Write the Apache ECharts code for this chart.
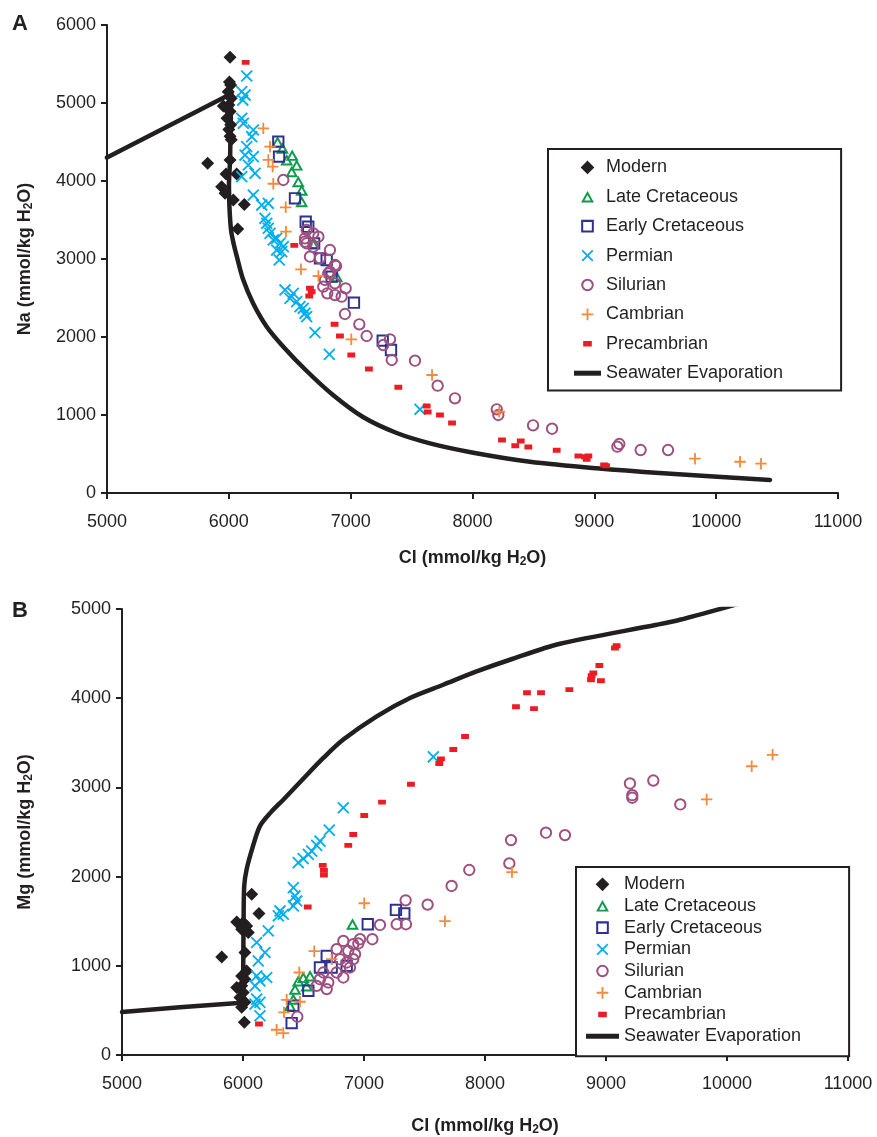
<!DOCTYPE html>
<html>
<head>
<meta charset="utf-8">
<script src="https://cdn.jsdelivr.net/npm/echarts@6/dist/echarts.min.js"></script>
<style>
html,body{margin:0;padding:0;background:#fff;}
#chart{width:877px;height:1137px;}
</style>
</head>
<body>
<div id="chart"></div>
<script>
// ---------------- DATA (Cl, Na) panel A ----------------
const xTicks = [5000, 6000, 7000, 8000, 9000, 10000, 11000];
const seriesNames = ['Modern', 'Late Cretaceous', 'Early Cretaceous', 'Permian', 'Silurian', 'Cambrian', 'Precambrian', 'Seawater Evaporation'];

const modernA = [[6010,5585],[6005,5270],[6015,5230],[5995,5145],[6020,5060],[6000,4975],[6010,4890],[5985,4805],[6015,4720],[6000,4660],[6010,4575],[6020,4530],[5955,4960],[5826,4226],[6010,4270],[5977,4090],[6064,4090],[5941,3927],[5969,3842],[6037,3756],[6127,3700],[6073,3385]];
const lateCretA = [[6400,4500],[6440,4420],[6475,4270],[6520,4330],[6557,4205],[6516,4120],[6570,3991],[6598,3884],[6598,3735],[6690,3200],[6886,2773]];
const earlyCretA = [[6406,4505],[6412,4312],[6543,3778],[6631,3478],[6652,3414],[6700,3200],[6748,3009],[6803,2987],[6844,2773],[7027,2440],[7263,1953],[7331,1833]];
const permianA = [[6147,5346],[6106,5145],[6133,5102],[6114,5038],[6106,4804],[6119,4740],[6201,4654],[6188,4568],[6147,4440],[6133,4333],[6201,4312],[6160,4205],[6215,4099],[6106,4056],[6201,3820],[6270,3692],[6324,3714],[6297,3522],[6311,3458],[6324,3394],[6338,3329],[6365,3244],[6393,3266],[6420,3201],[6447,3158],[6434,3094],[6393,3115],[6414,2987],[6461,2603],[6529,2560],[6502,2496],[6557,2453],[6584,2389],[6611,2368],[6625,2304],[6639,2261],[6707,2056],[6825,1778],[7569,1073]];
const silurianA = [[6447,4013],[6639,3372],[6693,3329],[6735,3286],[6625,3265],[6639,3201],[6693,3158],[6830,3115],[6666,3030],[6748,3009],[6871,2923],[6830,2837],[6625,3222],[6880,2910],[6816,2816],[6789,2731],[6871,2688],[6959,2624],[6775,2645],[6808,2560],[6871,2538],[6926,2517],[6953,2295],[7071,2163],[7131,2013],[7323,1970],[7268,1897],[7337,1705],[7528,1696],[7714,1376],[7856,1214],[8199,1073],[8212,1000],[8497,868],[8653,824],[9189,594],[9205,628],[9380,551],[9605,551]];
const cambrianA = [[6283,4675],[6338,4440],[6324,4270],[6360,4184],[6365,3965],[6467,3663],[6469,3350],[6592,2868],[6735,2782],[7005,1970],[7668,1513],[8220,1042],[9826,440],[10196,401],[10368,376]];
const precambrianA = [[6138,5521],[6537,3175],[6666,2624],[6680,2581],[6660,2526],[6868,2163],[6912,2013],[7005,1769],[7150,1590],[7391,1355],[7624,1115],[7632,1038],[7733,1000],[7832,897],[8242,679],[8351,606],[8396,667],[8458,590],[8691,547],[8869,474],[8923,465],[8951,474],[8937,432],[9080,359],[9096,350]];
// seawater evaporation path: straight limb to the halite point, then the curve
const seawaterA1 = [[5000,4300],[6020,5120]];
const seawaterA2 = [[6020,5120],[6014,4654],[6010,4269],[6001,3949],[6005,3667],[6018,3372],[6042,3179],[6067,3025],[6116,2743],[6198,2436],[6311,2132],[6447,1876],[6639,1564],[6855,1256],[7101,974],[7378,769],[7651,637],[8007,517],[8472,401],[9019,317],[9566,253],[10442,167]];

// ---------------- DATA (Cl, Mg) panel B ----------------
const modernB = [[6072,1802],[6132,1586],[5948,1492],[6002,1485],[6030,1447],[5989,1410],[6044,1373],[5824,1100],[6016,1149],[6030,943],[5989,887],[6016,850],[5989,776],[5948,757],[6002,702],[5975,646],[6016,590],[5989,534],[6011,366]];
const lateCretB = [[6905,1466],[6457,831],[6498,869],[6430,739],[6554,887],[6526,775],[6416,627],[6388,552]];
const earlyCretB = [[7031,1466],[7264,1626],[7333,1586],[6636,981],[6692,1111],[6857,999],[6540,720],[6416,552],[6402,358],[6733,981]];
const permianB = [[7573,3343],[6829,2772],[6713,2521],[6636,2398],[6609,2350],[6568,2286],[6540,2249],[6498,2201],[6457,2156],[6416,1877],[6430,1783],[6444,1727],[6416,1671],[6306,1615],[6333,1578],[6292,1559],[6209,1391],[6113,1261],[6182,1149],[6126,1055],[6113,887],[6196,869],[6140,831],[6099,775],[6113,627],[6140,590],[6099,571],[6140,440]];
const silurianB = [[6449,429],[7132,1458],[7069,1298],[7344,1734],[7270,1466],[7347,1466],[7526,1686],[7724,1895],[7870,2074],[6829,1279],[6911,1242],[6967,1298],[6953,1250],[6774,1186],[6870,1167],[6926,1130],[6802,1074],[6857,1037],[6911,1074],[6884,981],[6774,925],[6829,869],[6664,925],[6636,850],[6705,813],[6609,775],[6692,739],[8215,2409],[8201,2148],[8504,2492],[8661,2465],[9198,3044],[9217,2913],[9217,2884],[9391,3077],[9614,2809]];
const cambrianB = [[7002,1701],[7669,1500],[6589,1164],[6733,1074],[6465,925],[6361,619],[6471,597],[6339,478],[6278,283],[6333,246],[8223,2051],[9832,2865],[10204,3237],[10377,3365]];
const precambrianB = [[6132,347],[6535,1660],[6659,2126],[6669,2070],[6669,2017],[6870,2350],[6911,2473],[7002,2686],[7149,2835],[7388,3036],[7622,3268],[7636,3320],[7738,3424],[7835,3570],[8256,3905],[8405,3883],[8347,4062],[8463,4062],[8697,4096],[8876,4207],[8881,4252],[8895,4282],[8958,4196],[8945,4367],[9074,4562],[9088,4588]];
const seawaterB1 = [[5000,481],[5479,534],[5934,579],[6000,595],[6002,1000]];
const seawaterB2 = [[6002,1000],[6005,1500],[6010,1894],[6030,2081],[6080,2330],[6140,2566],[6230,2720],[6335,2865],[6500,3100],[6664,3330],[6829,3536],[7105,3797],[7380,4003],[7655,4151],[7931,4300],[8206,4431],[8620,4610],[9419,4823],[9611,4879],[10100,5060]];

// ---------------- STYLE ----------------
const FONT = '"Liberation Sans", Arial, Helvetica, sans-serif';
const INK = '#231f20';
const COLORS = {
  'Modern': '#231f20',
  'Late Cretaceous': '#0a9c4a',
  'Early Cretaceous': '#2e3192',
  'Permian': '#00aeef',
  'Silurian': '#9e4f7f',
  'Cambrian': '#f7893b',
  'Precambrian': '#ec1c24',
  'Seawater Evaporation': '#231f20'
};
// symbol geometry in a 100x100 box (corner points fix the box), scaled by k about the centre
const BOX = 'M0,0 L0,0 Z M100,100 L100,100 Z ';
function sc(v, k) { return (50 + (v - 50) * k).toFixed(2); }
function poly(pts, k) { return 'M' + pts.map(p => sc(p[0], k) + ',' + sc(p[1], k)).join(' L') + ' Z '; }
function ring(ro, ri, k) {
  ro *= k; ri *= k;
  return 'M' + (50 - ro) + ',50 A' + ro + ',' + ro + ' 0 1,1 ' + (50 + ro) + ',50 A' + ro + ',' + ro + ' 0 1,1 ' + (50 - ro) + ',50 Z ' +
         'M' + (50 - ri) + ',50 A' + ri + ',' + ri + ' 0 1,0 ' + (50 + ri) + ',50 A' + ri + ',' + ri + ' 0 1,0 ' + (50 - ri) + ',50 Z ';
}
const SHAPE = {
  'Modern': k => poly([[50,0],[100,50],[50,100],[0,50]], k),
  'Late Cretaceous': k => poly([[50,8],[96,90],[4,90]], k) + poly([[50,36.6],[27.9,76],[72.1,76]], k),
  'Early Cretaceous': k => poly([[6,6],[94,6],[94,94],[6,94]], k) + poly([[20,20],[20,80],[80,80],[80,20]], k),
  'Permian': k => poly([[12.95,3.05],[96.95,87.05],[87.05,96.95],[3.05,12.95]], k) + poly([[87.05,3.05],[96.95,12.95],[12.95,96.95],[3.05,87.05]], k),
  'Silurian': k => ring(44, 30, k),
  'Cambrian': k => poly([[43,6],[57,6],[57,43],[94,43],[94,57],[57,57],[57,94],[43,94],[43,57],[6,57],[6,43],[43,43]], k),
  'Precambrian': k => poly([[20,31],[80,31],[80,69],[20,69]], k)
};
const SIZE = {'Modern': 13, 'Late Cretaceous': 14, 'Early Cretaceous': 14, 'Permian': 13, 'Silurian': 14, 'Cambrian': 13, 'Precambrian': 13};
const LEGEND_K = {'Modern': 0.76, 'Late Cretaceous': 0.78, 'Early Cretaceous': 0.8, 'Permian': 0.7, 'Silurian': 0.79, 'Cambrian': 0.74, 'Precambrian': 0.8};

function scatter(name, data, idx) {
  return {
    type: 'scatter', name: name, data: data,
    xAxisIndex: idx, yAxisIndex: idx,
    symbol: 'path://' + BOX + SHAPE[name](1), symbolSize: SIZE[name],
    itemStyle: {color: COLORS[name], borderWidth: 0, opacity: 1},
    emphasis: {disabled: true},
    z: 3
  };
}
function seaLine(data, idx, smooth) {
  return {
    type: 'line', name: 'Seawater Evaporation', data: data,
    xAxisIndex: idx, yAxisIndex: idx,
    symbol: 'none', showSymbol: false, smooth: smooth,
    lineStyle: {color: INK, width: 4.5, join: 'round', cap: 'round'},
    itemStyle: {color: INK},
    emphasis: {disabled: true},
    clip: true, z: 2
  };
}
const axisNameStyle = {
  fontSize: 18, fontWeight: 'bold', color: INK, fontFamily: FONT, lineHeight: 20,
  rich: {s: {fontSize: 12, fontWeight: 'bold', color: INK, fontFamily: FONT, lineHeight: 12, verticalAlign: 'bottom'}}
};
const plainNum = v => String(v);
function xAxis(idx, nameGap) {
  return {
    type: 'value', gridIndex: idx, min: 5000, max: 11000, interval: 1000,
    name: 'Cl (mmol/kg H{s|2}O)', nameLocation: 'middle', nameGap: nameGap, nameMoveOverlap: false,
    nameTextStyle: axisNameStyle,
    axisLine: {show: true, onZero: false, lineStyle: {color: INK, width: 2}},
    axisTick: {show: true, inside: false, length: 6, lineStyle: {color: INK, width: 2}},
    axisLabel: {show: true, margin: 20, fontSize: 18, color: INK, fontFamily: FONT, formatter: plainNum, showMinLabel: true, showMaxLabel: true},
    splitLine: {show: false}
  };
}
function yAxis(idx, max, name, nameGap) {
  return {
    type: 'value', gridIndex: idx, min: 0, max: max, interval: 1000,
    name: name, nameLocation: 'middle', nameGap: nameGap, nameRotate: 90, nameMoveOverlap: false,
    nameTextStyle: axisNameStyle,
    axisLine: {show: true, onZero: false, lineStyle: {color: INK, width: 2}},
    axisTick: {show: true, inside: false, length: 6, lineStyle: {color: INK, width: 2}},
    axisLabel: {show: true, margin: 11, fontSize: 18, color: INK, fontFamily: FONT, formatter: plainNum, showMinLabel: true, showMaxLabel: true},
    splitLine: {show: false}
  };
}
function legendData(lineW) {
  return seriesNames.map(n => n === 'Seawater Evaporation'
    ? {name: n, icon: 'path://M0,0 L' + lineW + ',0 L' + lineW + ',5 L0,5 Z'}
    : {name: n, icon: 'path://' + BOX + SHAPE[n](LEGEND_K[n])});
}
function legend(left, top, itemWidth, itemGap, padding) {
  return {
    show: true, orient: 'vertical', align: 'left',
    left: left, top: top, itemWidth: itemWidth, itemHeight: 18, itemGap: itemGap,
    padding: padding, borderColor: INK, borderWidth: 2, backgroundColor: '#fff',
    symbolKeepAspect: true, selectedMode: false,
    itemStyle: {borderWidth: 0},
    textStyle: {fontSize: 18, color: INK, fontFamily: FONT, lineHeight: 18},
    data: legendData(itemWidth)
  };
}

const option = {
  animation: false,
  backgroundColor: '#fff',
  textStyle: {fontFamily: FONT},
  title: [
    {text: 'A', left: 12, top: 13, padding: 0, textStyle: {fontSize: 22, fontWeight: 'bold', color: INK, fontFamily: FONT}},
    {text: 'B', left: 12, top: 600, padding: 0, textStyle: {fontSize: 22, fontWeight: 'bold', color: INK, fontFamily: FONT}}
  ],
  grid: [
    {left: 107, top: 25, width: 731, height: 468, containLabel: false},
    {left: 122, top: 609, width: 726, height: 447, containLabel: false}
  ],
  xAxis: [xAxis(0, 55), xAxis(1, 61)],
  yAxis: [yAxis(0, 6000, 'Na (mmol/kg H{s|2}O)', 72), yAxis(1, 5000, 'Mg (mmol/kg H{s|2}O)', 87)],
  legend: [
    legend(548, 149, 27, 11.4, [9.4, 58, 8.4, 26]),
    legend(576, 867, 33, 3.7, [8.3, 48, 11, 10])
  ],
  series: [
    seaLine(seawaterA1, 0, false),
    seaLine(seawaterA2, 0, 0.3),
    scatter('Modern', modernA, 0),
    scatter('Late Cretaceous', lateCretA, 0),
    scatter('Early Cretaceous', earlyCretA, 0),
    scatter('Permian', permianA, 0),
    scatter('Silurian', silurianA, 0),
    scatter('Cambrian', cambrianA, 0),
    scatter('Precambrian', precambrianA, 0),
    seaLine(seawaterB1, 1, false),
    seaLine(seawaterB2, 1, 0.3),
    scatter('Modern', modernB, 1),
    scatter('Late Cretaceous', lateCretB, 1),
    scatter('Early Cretaceous', earlyCretB, 1),
    scatter('Permian', permianB, 1),
    scatter('Silurian', silurianB, 1),
    scatter('Cambrian', cambrianB, 1),
    scatter('Precambrian', precambrianB, 1)
  ]
};
const chart = echarts.init(document.getElementById('chart'), null, {renderer: 'canvas'});
chart.setOption(option);
</script>
</body>
</html>
